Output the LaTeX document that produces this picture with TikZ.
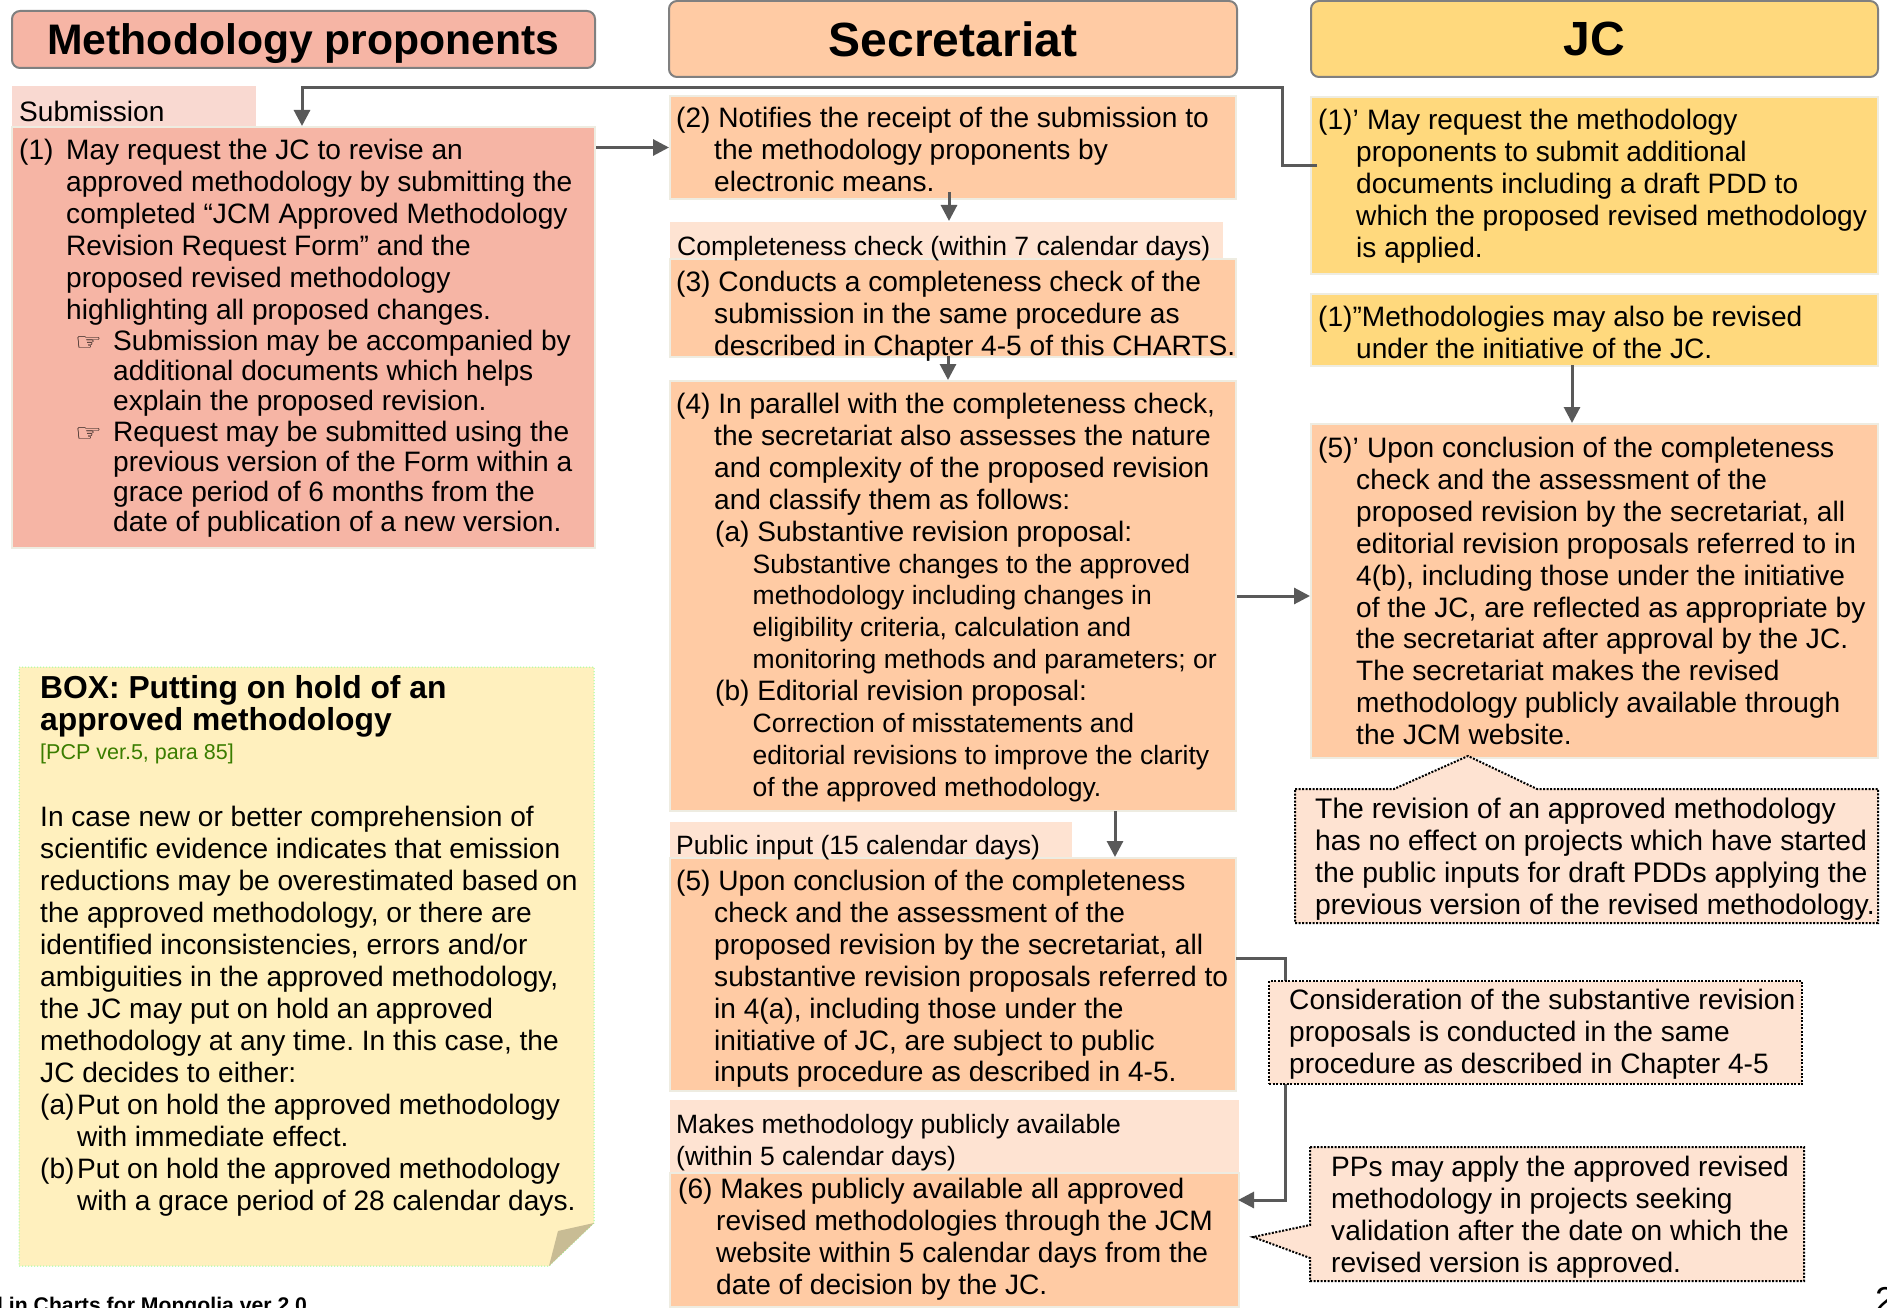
\documentclass[tikz,border=0pt]{standalone}
\usepackage{fontspec}
\setmainfont{Liberation Sans}
\newfontfamily\symfont{DejaVu Sans}
\usetikzlibrary{arrows.meta, positioning}
\definecolor{proprose}{RGB}{246,181,165}
\definecolor{proptab}{RGB}{249,217,209}
\definecolor{secpeach}{RGB}{255,203,164}
\definecolor{sectab}{RGB}{254,227,210}
\definecolor{jcyellow}{RGB}{255,217,125}
\definecolor{notecream}{RGB}{255,240,190}
\definecolor{notefold}{RGB}{200,188,148}
\definecolor{boxedge}{RGB}{238,236,225}
\definecolor{flowgray}{RGB}{89,89,89}
\definecolor{refgreen}{RGB}{58,125,0}
\newcommand{\bodyfont}{\frenchspacing\fontsize{28.1}{31.9}\selectfont}
\newcommand{\subfont}{\fontsize{26.5}{31.9}\selectfont}
\newcommand{\tabfont}{\frenchspacing\fontsize{26.5}{31.9}\selectfont}
\newcommand{\tight}{\frenchspacing\fontsize{28.1}{30.2}\selectfont}
\newcommand{\hand}{\makebox[38pt][l]{\symfont\fontsize{24}{30}\selectfont\scalebox{1.25}[1]{☞}}}
\tikzset{
  headbox/.style={rectangle, draw=gray, line width=2pt, rounded corners=8pt, anchor=north west, inner sep=0pt},
  stepbox/.style={rectangle, draw=boxedge, line width=2pt, anchor=north west, inner sep=0pt},
  txt/.style={anchor=north west, inner sep=0pt, align=left, font=\bodyfont},
  flow/.style={-{Triangle[length=16pt,width=16pt]}, line width=3pt, flowgray},
  dotbox/.style={draw=black, fill=sectab, line width=2pt, dash pattern=on 2pt off 1.5pt}
}
\begin{document}
\begin{tikzpicture}[x=1pt,y=-1pt]
\useasboundingbox (0,0) rectangle (1887,1308);

% Headers
\node[headbox, fill=proprose, minimum width=583pt, minimum height=57pt] (headprop) at (11,10) {};
\node[font=\fontsize{42.7}{50}\selectfont\bfseries, yshift=-4pt] (headproptxt) at (headprop.center) {Methodology proponents};
\node[headbox, fill=secpeach, minimum width=568pt, minimum height=76pt] (headsec) at (668,0) {};
\node[font=\fontsize{48}{54}\selectfont\bfseries] (headsectxt) at (headsec.center) {Secretariat};
\node[headbox, fill=jcyellow, minimum width=567pt, minimum height=76pt] (headjc) at (1310,0) {};
\node[font=\fontsize{48}{54}\selectfont\bfseries] (headjctxt) at (headjc.center) {JC};

% Proponents side
\node[stepbox, fill=proptab, draw=none, minimum width=244pt, minimum height=41pt] (tabsub) at (11,85) {};
\node[stepbox, fill=proprose, minimum width=583pt, minimum height=421pt] (boxone) at (11,126) {};
\node[txt] (tabsubtxt) at (19,101) {Submission};
\node[txt] (txtone) at (19,139) {\makebox[47pt][l]{(1)}May request the JC to revise an\\
\hspace*{47pt}approved methodology by submitting the\\
\hspace*{47pt}completed “JCM Approved Methodology\\
\hspace*{47pt}Revision Request Form” and the\\
\hspace*{47pt}proposed revised methodology\\
\hspace*{47pt}highlighting all proposed changes.};
\node[txt, font=\tight] (txtonehand) at (75,330) {\hand Submission may be accompanied by\\
\hspace*{38pt}additional documents which helps\\
\hspace*{38pt}explain the proposed revision.\\
\hand Request may be submitted using the\\
\hspace*{38pt}previous version of the Form within a\\
\hspace*{38pt}grace period of 6 months from the\\
\hspace*{38pt}date of publication of a new version.};

% Note on putting on hold
\draw[fill=notecream, draw=green!40!white, line width=1pt, dotted] (19,667) -- (594,667) -- (594,1223) -- (549,1266) -- (19,1266) -- cycle;
\fill[notefold] (594,1223) -- (558,1231) -- (549,1266) -- cycle;
\node[txt, font=\frenchspacing\fontsize{31.8}{32}\selectfont\bfseries] (notehead) at (40,675) {BOX: Putting on hold of an\\approved methodology};
\node[txt, font=\fontsize{21.5}{26}\selectfont, text=refgreen] (noteref) at (40,744) {[PCP ver.5, para 85]};
\node[txt, font=\frenchspacing\fontsize{28.1}{32}\selectfont] (notetxt) at (40,806) {In case new or better comprehension of\\
scientific evidence indicates that emission\\
reductions may be overestimated based on\\
the approved methodology, or there are\\
identified inconsistencies, errors and/or\\
ambiguities in the approved methodology,\\
the JC may put on hold an approved\\
methodology at any time. In this case, the\\
JC decides to either:\\
\makebox[37pt][l]{(a)}Put on hold the approved methodology\\
\hspace*{37pt}with immediate effect.\\
\makebox[37pt][l]{(b)}Put on hold the approved methodology\\
\hspace*{37pt}with a grace period of 28 calendar days.};

% Secretariat side
\node[stepbox, fill=secpeach, minimum width=566pt, minimum height=103pt] (boxtwo) at (669,95) {};
\node[txt] (txttwo) at (676,107) {(2) Notifies the receipt of the submission to\\
\hspace*{38pt}the methodology proponents by\\
\hspace*{38pt}electronic means.};
\node[stepbox, fill=sectab, draw=none, minimum width=553pt, minimum height=37pt] (tabcheck) at (669,221) {};
\node[stepbox, fill=secpeach, minimum width=566pt, minimum height=98pt] (boxthree) at (669,258) {};
\node[txt, font=\tabfont] (tabchecktxt) at (677,236) {Completeness check (within 7 calendar days)};
\node[txt] (txtthree) at (676,271) {(3) Conducts a completeness check of the\\
\hspace*{38pt}submission in the same procedure as\\
\hspace*{38pt}described in Chapter 4-5 of this CHARTS.};
\node[stepbox, fill=secpeach, minimum width=566pt, minimum height=430pt] (boxfour) at (669,380) {};
\node[txt] (txtfour) at (676,393) {(4) In parallel with the completeness check,\\
\hspace*{38pt}the secretariat also assesses the nature\\
\hspace*{38pt}and complexity of the proposed revision\\
\hspace*{38pt}and classify them as follows:\\
\hspace*{39pt}(a) Substantive revision proposal:\\
\hspace*{76.5pt}{\subfont Substantive changes to the approved}\\
\hspace*{76.5pt}{\subfont methodology including changes in}\\
\hspace*{76.5pt}{\subfont eligibility criteria, calculation and}\\
\hspace*{76.5pt}{\subfont monitoring methods and parameters; or}\\
\hspace*{39pt}(b) Editorial revision proposal:\\
\hspace*{76.5pt}{\subfont Correction of misstatements and}\\
\hspace*{76.5pt}{\subfont editorial revisions to improve the clarity}\\
\hspace*{76.5pt}{\subfont of the approved methodology.}};
\node[stepbox, fill=sectab, draw=none, minimum width=402pt, minimum height=36pt] (tabinput) at (669,821) {};
\node[stepbox, fill=secpeach, minimum width=566pt, minimum height=233pt] (boxfive) at (669,857) {};
\node[txt, font=\tabfont] (tabinputtxt) at (676,835) {Public input (15 calendar days)};
\node[txt] (txtfive) at (676,870) {(5) Upon conclusion of the completeness\\
\hspace*{38pt}check and the assessment of the\\
\hspace*{38pt}proposed revision by the secretariat, all\\
\hspace*{38pt}substantive revision proposals referred to\\
\hspace*{38pt}in 4(a), including those under the\\
\hspace*{38pt}initiative of JC, are subject to public\\
\hspace*{38pt}inputs procedure as described in 4-5.};
\node[stepbox, fill=sectab, draw=none, minimum width=569pt, minimum height=73pt] (tabavail) at (669,1099) {};
\node[stepbox, fill=secpeach, minimum width=569pt, minimum height=134pt] (boxsix) at (669,1172) {};
\node[txt, font=\tabfont] (tabavailtxt) at (676,1114) {Makes methodology publicly available\\(within 5 calendar days)};
\node[txt] (txtsix) at (678,1178) {(6) Makes publicly available all approved\\
\hspace*{38pt}revised methodologies through the JCM\\
\hspace*{38pt}website within 5 calendar days from the\\
\hspace*{38pt}date of decision by the JC.};

% JC side
\node[stepbox, fill=jcyellow, minimum width=567pt, minimum height=177pt] (jcone) at (1310,96) {};
\node[txt] (jconetxt) at (1318,109) {\makebox[49pt][l]{(1)’}May request the methodology\\
\hspace*{38pt}proponents to submit additional\\
\hspace*{38pt}documents including a draft PDD to\\
\hspace*{38pt}which the proposed revised methodology\\
\hspace*{38pt}is applied.};
\node[stepbox, fill=jcyellow, minimum width=567pt, minimum height=72pt] (jctwo) at (1310,293) {};
\node[txt] (jctwotxt) at (1318,306) {(1)”Methodologies may also be revised\\
\hspace*{38pt}under the initiative of the JC.};
\node[stepbox, fill=secpeach, minimum width=567pt, minimum height=334pt] (jcfive) at (1310,423) {};
\node[txt] (jcfivetxt) at (1318,437) {\makebox[49pt][l]{(5)’}Upon conclusion of the completeness\\
\hspace*{38pt}check and the assessment of the\\
\hspace*{38pt}proposed revision by the secretariat, all\\
\hspace*{38pt}editorial revision proposals referred to in\\
\hspace*{38pt}4(b), including those under the initiative\\
\hspace*{38pt}of the JC, are reflected as appropriate by\\
\hspace*{38pt}the secretariat after approval by the JC.\\
\hspace*{38pt}The secretariat makes the revised\\
\hspace*{38pt}methodology publicly available through\\
\hspace*{38pt}the JCM website.};

% Connections
\coordinate (jcstart) at (1317,166);
\coordinate (jcturn) at (1282,88);
\coordinate (subin) at (302,126);
\draw[flow] (jcstart) -- (jcstart -| jcturn) -- (jcturn) -- (jcturn -| subin) -- (subin);
\draw[flow] (boxtwo.west -| boxone.east) -- (boxtwo.west);
\coordinate (twoout) at (949,192);
\draw[flow] (twoout) -- (twoout |- tabcheck.north);
\coordinate (threeout) at (948,356);
\draw[flow] (threeout) -- (threeout |- boxfour.north);
\coordinate (fourout) at (1115,811);
\draw[flow] (fourout) -- (fourout |- boxfive.north);
\coordinate (jctwoout) at (1572,365);
\draw[flow] (jctwoout) -- (jctwoout |- jcfive.north);
\draw[flow] (boxfour.east) -- (boxfour.east -| jcfive.west);
\coordinate (fiveout) at (1236,958);
\coordinate (fiveturn) at (1285,958);
\coordinate (sixin) at (1238,1200);
\draw[flow] (fiveout) -- (fiveturn) |- (sixin);

% Callouts
\draw[dotbox] (1295,789) -- (1394,789) -- (1468,756) -- (1537,789) -- (1878,789) -- (1878,923) -- (1295,923) -- cycle;
\node[txt, font=\frenchspacing\fontsize{28.3}{31.9}\selectfont] (calloutrev) at (1315,798) {The revision of an approved methodology\\
has no effect on projects which have started\\
the public inputs for draft PDDs applying the\\
previous version of the revised methodology.};
\node[dotbox, rectangle, anchor=north west, inner sep=0pt, minimum width=533pt, minimum height=103pt] (calloutcons) at (1268,980) {};
\node[txt] (calloutconstxt) at (1289,989) {Consideration of the substantive revision\\
proposals is conducted in the same\\
procedure as described in Chapter 4-5};
\draw[dotbox] (1310,1147) -- (1804,1147) -- (1804,1281) -- (1310,1281) -- (1310,1258) -- (1253,1237) -- (1310,1225) -- cycle;
\node[txt] (calloutpp) at (1331,1156) {PPs may apply the approved revised\\
methodology in projects seeking\\
validation after the date on which the\\
revised version is approved.};

% Footer
\node[anchor=base west, inner sep=0pt, font=\fontsize{21.2}{24}\selectfont\bfseries] (footer) at (-3,1312) {l in Charts for Mongolia ver 2.0};
\node[anchor=base west, inner sep=0pt, font=\fontsize{36}{40}\selectfont] (pagenum) at (1875,1312) {2};
\end{tikzpicture}
\end{document}
